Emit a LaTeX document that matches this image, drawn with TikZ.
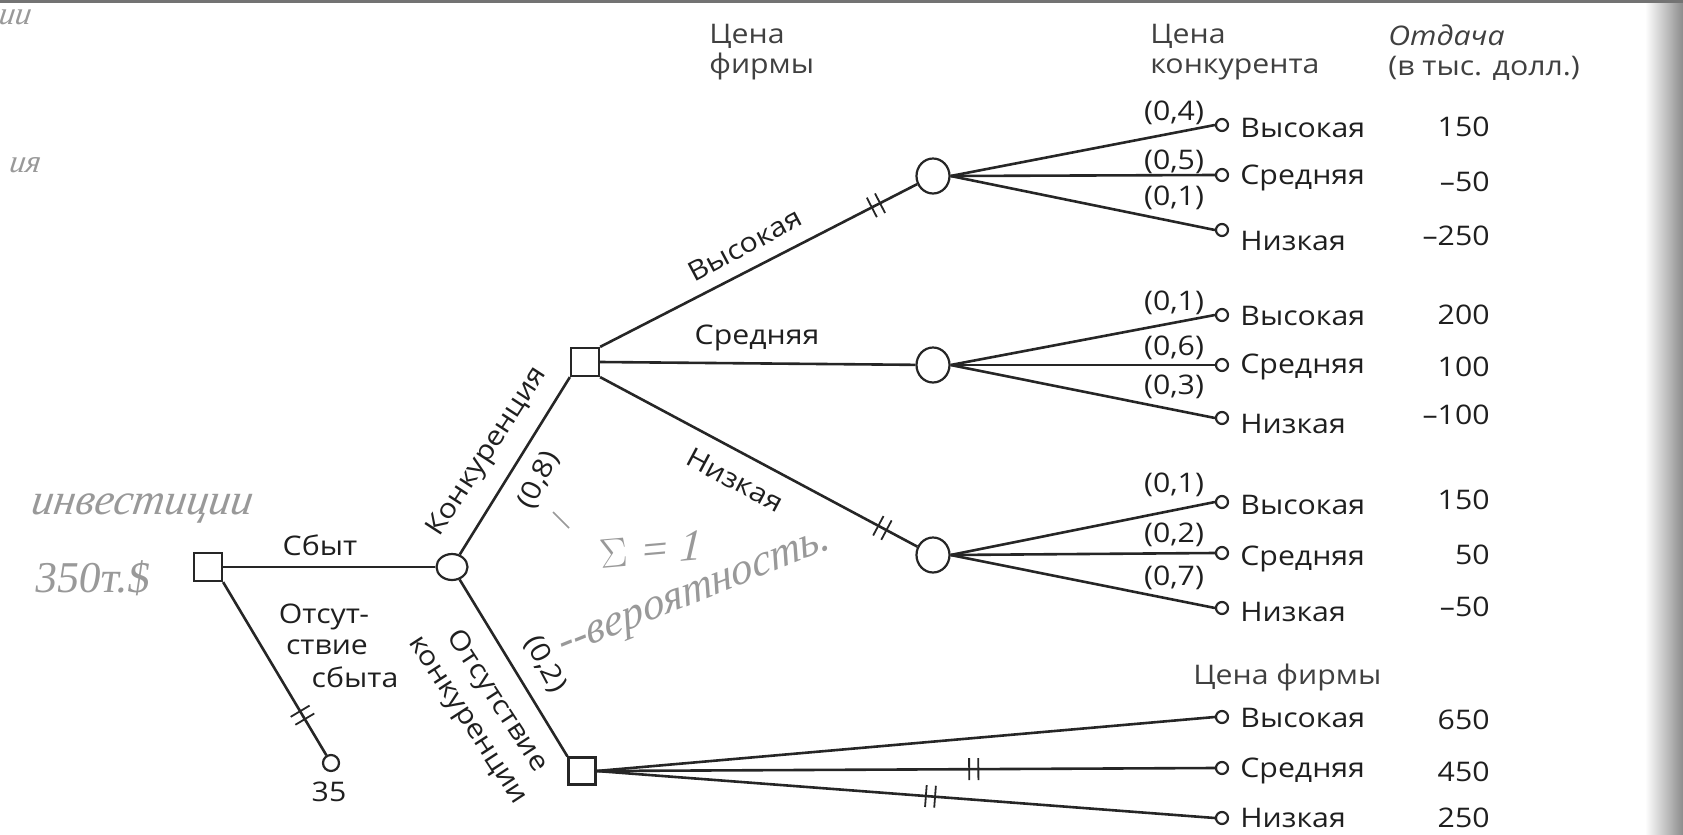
\documentclass[tikz,border=0pt]{standalone}
\usepackage{fontspec}
\setmainfont{Open Sans}[FakeStretch=1.12]
\newfontfamily\hand{Liberation Serif}[FakeSlant=0.15]
\usetikzlibrary{shapes.geometric,decorations.markings}
\begin{document}
\begin{tikzpicture}[x=0.5pt,y=-0.5pt,
  every node/.style={font=\fontsize{13.5}{15}\selectfont, inner sep=0pt, text=black!88},
  br/.style={line width=1.3pt, draw=black!85},
  dec/.style={draw=black!85, line width=1.1pt, rectangle, minimum size=14pt, inner sep=0pt},
  chn/.style={draw=black!85, line width=1.1pt, ellipse, minimum width=16.5pt, minimum height=17.5pt, inner sep=0pt},
  term/.style={draw=black!85, line width=1.1pt, circle, minimum size=6pt, inner sep=0pt},
  lbl/.style={anchor=west},
  pay/.style={anchor=east},
  hd/.style={anchor=west, align=left, text=black!75, font=\fontsize{13.5}{15}\selectfont},
  hw/.style={text=black!40, font=\hand\itshape\fontsize{22}{24}\selectfont},
  cut/.style={postaction={decorate, decoration={markings,
      mark=at position #1 with {\draw[line width=0.9pt, black!85] (-2.3pt,-5.5pt) -- (-2.3pt,5.5pt) (2.3pt,-5.5pt) -- (2.3pt,5.5pt);}}}},
]
\useasboundingbox (0,0) rectangle (1683,835);
% scan edges
\fill[black!55] (0,0) rectangle (1683,3);
\shade[left color=white, right color=black!45] (1645,3) rectangle (1683,835);

% decision / chance nodes
\node[dec] (root) at (208,567) {};
\node[chn, minimum width=15.5pt, minimum height=13pt] (sales) at (452,567) {};
\node[term, minimum size=8pt] (t35) at (331,763) {};
\node[dec] (comp) at (585,362) {};
\node[dec, minimum size=13.5pt] (nocomp) at (582,771) {};
\node[chn] (ch1) at (933,176) {};
\node[chn] (ch2) at (933,365) {};
\node[chn] (ch3) at (933,555) {};

% terminals
\foreach \n/\y in {t11/125,t12/175,t13/230,t21/315,t22/365,t23/418,t31/502,t32/553,t33/608,t41/717,t42/768,t43/818}
  \node[term] (\n) at (1222,\y) {};

% branches
\draw[br] (root.east) -- (sales.west);
\draw[br, cut=0.77] (root.south east) -- (t35);
\draw[br] (sales) -- (comp.south west);
\draw[br] (sales) -- (nocomp.north west);
\draw[br, cut=0.87] (comp.north east) -- (ch1);
\draw[br] (comp.east) -- (ch2);
\draw[br, cut=0.89] (comp.south east) -- (ch3);
\foreach \c/\a/\b/\d in {ch1/t11/t12/t13, ch2/t21/t22/t23, ch3/t31/t32/t33}{
  \draw[br] (\c.east) -- (\a.west);
  \draw[br] (\c.east) -- (\b.west);
  \draw[br] (\c.east) -- (\d.west);
}
\draw[br] (nocomp.east) -- (t41.west);
\draw[br, cut=0.61] (nocomp.east) -- (t42.west);
\draw[br, cut=0.54] (nocomp.east) -- (t43.west);

% headers
\node[hd] (h1) at (709,52) {Цена\\фирмы};
\node[hd] (h2) at (1150,52) {Цена\\конкурента};
\node[hd] (h3) at (1388,53) {\itshape Отдача\\(в тыс. долл.)};
\node[hd] (h4) at (1193,677) {Цена фирмы};

% branch labels
\node (lsb) at (320,545) {Сбыт};
\node (lo1) at (324,617) {Отсут-};
\node (lo2) at (327,647) {ствие};
\node (lo3) at (355,677) {сбыта};
\node (l35) at (329,792) {35};
\node[rotate=57] (lk) at (488,452) {Конкуренция};
\node[rotate=64] (p08) at (539,480) {(0,8)};
\node[rotate=-62] (p02) at (545,664) {(0,2)};
\node[rotate=-57, align=center, font=\fontsize{13.5}{17.5}\selectfont] (lnk) at (482,711) {Отсутствие\\конкуренции};
\node[rotate=28] (lhi) at (745,245) {Высокая};
\node (lmid) at (757,338) {Средняя};
\node[rotate=-28] (llo) at (735,480) {Низкая};

% probabilities
\foreach \n/\y/\t in {q11/113/{(0,4)},q12/162/{(0,5)},q13/198/{(0,1)},q21/303/{(0,1)},q22/348/{(0,6)},q23/387/{(0,3)},q31/485/{(0,1)},q32/535/{(0,2)},q33/578/{(0,7)}}
  \node (\n) at (1174,\y) {\t};

% outcome labels
\foreach \n/\y/\t in {a11/128/Высокая,a12/178/Средняя,a13/241/Низкая,a21/316/Высокая,a22/367/Средняя,a23/424/Низкая,a31/505/Высокая,a32/559/Средняя,a33/612/Низкая,a41/718/Высокая,a42/771/Средняя,a43/818/Низкая}
  \node[lbl] (\n) at (1240,\y) {\t};

% payoffs
\foreach \n/\y/\t in {v11/127/150,v12/182/--50,v13/236/--250,v21/315/200,v22/367/100,v23/415/--100,v31/500/150,v32/555/50,v33/607/--50,v41/720/650,v42/772/450,v43/818/250}
  \node[pay] (\n) at (1490,\y) {\t};

% handwritten notes
\node[hw] (w1) at (141,508) {инвестиции};
\node[hw, font=\hand\fontsize{22}{24}\selectfont] (w2) at (91,578) {350т.\$};
\node[hw, rotate=5] (w3) at (650,550) {$\Sigma$ = 1};
\node[hw, rotate=22] (w4) at (695,597) {--вероятность.};
\node[hw, font=\hand\itshape\fontsize{16}{18}\selectfont] (w5) at (14,17) {ии};
\node[hw, font=\hand\itshape\fontsize{16}{18}\selectfont] (w6) at (24,165) {ия};
\draw[black!40, line width=0.8pt] (553,512) -- (569,528);
\end{tikzpicture}
\end{document}
